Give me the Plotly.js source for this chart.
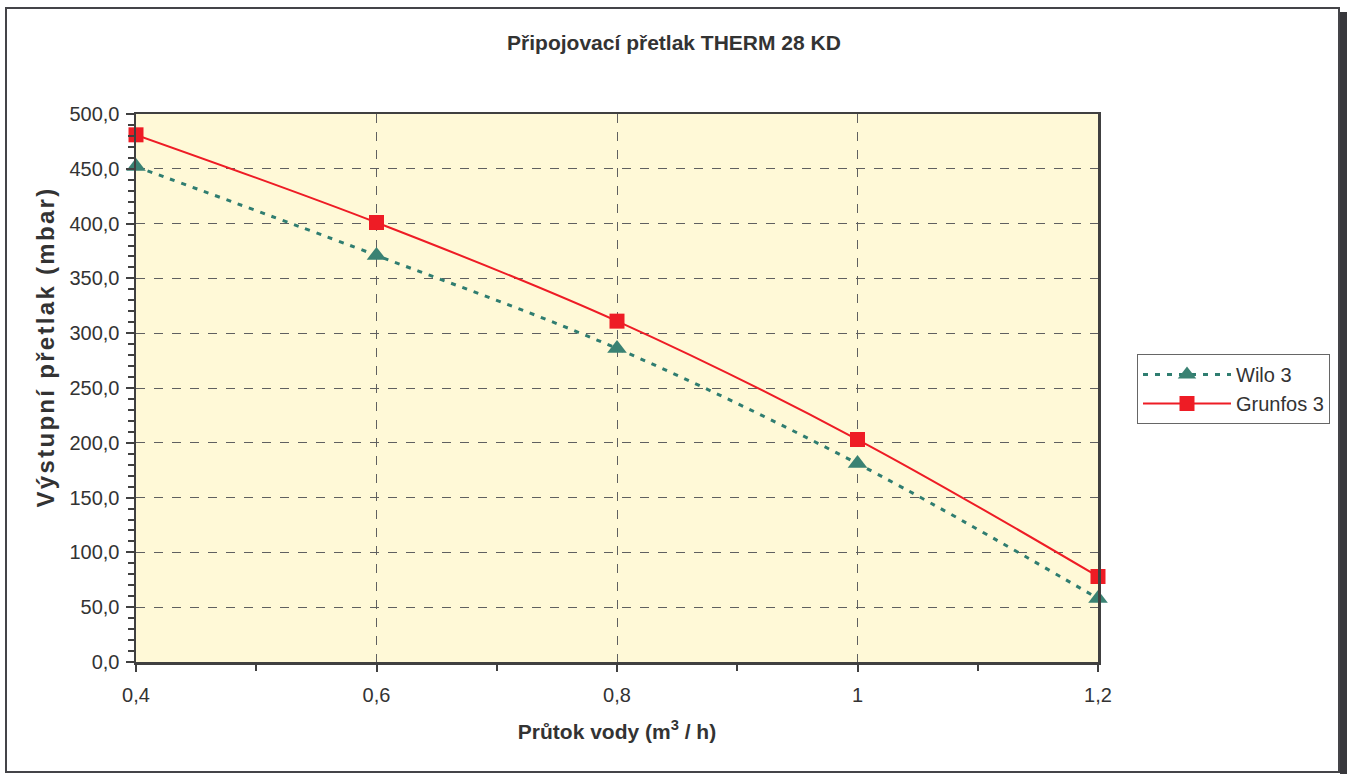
<!DOCTYPE html>
<html>
<head>
<meta charset="utf-8">
<script src="https://cdn.plot.ly/plotly-3.0.1.min.js"></script>
<style>
html,body{margin:0;padding:0;background:#fff;}
#chart{width:1348px;height:774px;}
#chart .annotation-text{letter-spacing:2.3px;}
</style>
</head>
<body>
<div id="chart"></div>
<script>
const flow = [0.4, 0.6, 0.8, 1.0, 1.2];
const wilo3 = [452, 371, 286, 181, 58];
const grunfos3 = [481, 401, 311, 203, 78];
const xTickVals = [0.4, 0.6, 0.8, 1.0, 1.2];
const xTickText = ['0,4', '0,6', '0,8', '1', '1,2'];
const seriesNames = ['Wilo 3', 'Grunfos 3'];
const chartTitle = 'Připojovací přetlak THERM 28 KD';
const xTitle = 'Průtok vody (m<sup>3</sup> / h)';
const yTitle = 'Výstupní přetlak (mbar)';

const FONT = 'Liberation Sans, Arial, sans-serif';
const TXT = '#333333';

const traces = [
  {
    x: flow, y: wilo3, name: seriesNames[0], type: 'scatter', mode: 'lines+markers',
    cliponaxis: false,
    line: {color: '#2F7D70', width: 3, dash: '5px,7px', shape: 'spline', smoothing: 1},
    marker: {symbol: 'triangle-up', size: 17, color: '#3A8273'}
  },
  {
    x: flow, y: grunfos3, name: seriesNames[1], type: 'scatter', mode: 'lines+markers',
    cliponaxis: false,
    line: {color: '#EE1C25', width: 2, shape: 'spline', smoothing: 1},
    marker: {symbol: 'square', size: 15, color: '#EE1C25'}
  }
];

const L = 136, R = 1098, T = 114, B = 662, W = 1348, H = 774;
const px = v => (v - L) / (R - L);
const py = v => (B - v) / (B - T);

const layout = {
  width: W, height: H,
  margin: {l: L, r: W - R, t: T, b: H - B},
  paper_bgcolor: '#ffffff',
  plot_bgcolor: '#FFF9D7',
  separators: ',.',
  font: {family: FONT, size: 20, color: TXT},
  showlegend: true,
  title: {
    text: '<b>' + chartTitle + '</b>',
    font: {family: FONT, size: 21, color: TXT},
    x: 0.5, xref: 'container', xanchor: 'center',
    y: 1 - 43 / H, yref: 'container', yanchor: 'middle'
  },
  xaxis: {
    range: [0.4, 1.2],
    tickvals: xTickVals, ticktext: xTickText,
    ticks: 'outside', ticklen: 7, tickwidth: 2, tickcolor: '#404040',
    showline: true, linecolor: '#404040', linewidth: 2.5, mirror: true,
    showgrid: true, gridcolor: '#606060', gridwidth: 1, griddash: 'dash',
    zeroline: false,
    minor: {dtick: 0.1, tick0: 0.4, ticks: 'outside', ticklen: 6, tickwidth: 2, tickcolor: '#404040', showgrid: false},
    tickfont: {family: FONT, size: 20, color: TXT},
    ticklabelstandoff: 6,
    title: {text: '<b>' + xTitle + '</b>', font: {family: FONT, size: 21, color: TXT}, standoff: 20}
  },
  yaxis: {
    range: [0, 500],
    dtick: 50, tick0: 0, tickformat: '.1f',
    ticks: 'outside', ticklen: 8, tickwidth: 2, tickcolor: '#404040',
    showline: true, linecolor: '#404040', linewidth: 2.5, mirror: true,
    showgrid: true, gridcolor: '#606060', gridwidth: 1, griddash: 'dash',
    zeroline: false,
    minor: {dtick: 10, ticks: 'outside', ticklen: 6, tickwidth: 2, tickcolor: '#404040', showgrid: false},
    tickfont: {family: FONT, size: 20, color: TXT},
    ticklabelstandoff: 2
  },
  annotations: [
    {text: '<b>' + yTitle + '</b>', xref: 'paper', yref: 'paper', x: px(45), y: py(347),
     xanchor: 'center', yanchor: 'middle', textangle: -90, showarrow: false,
     font: {family: FONT, size: 24, color: TXT}}
  ],
  legend: {
    x: px(1137), y: py(354), xanchor: 'left', yanchor: 'top',
    bgcolor: '#ffffff', bordercolor: '#666666', borderwidth: 1,
    font: {family: FONT, size: 20, color: TXT},
    itemwidth: 88, tracegroupgap: 2
  },
  shapes: [
    {type: 'rect', xref: 'paper', yref: 'paper', x0: px(1340), x1: px(1347), y0: py(774), y1: py(12),
     fillcolor: '#38383C', line: {width: 0}, layer: 'below'},
    {type: 'rect', xref: 'paper', yref: 'paper', x0: px(6), x1: px(1339), y0: py(772), y1: py(8),
     fillcolor: 'rgba(0,0,0,0)', line: {color: '#444448', width: 2}}
  ]
};

Plotly.newPlot('chart', traces, layout, {displayModeBar: false, staticPlot: true});
</script>
</body>
</html>
